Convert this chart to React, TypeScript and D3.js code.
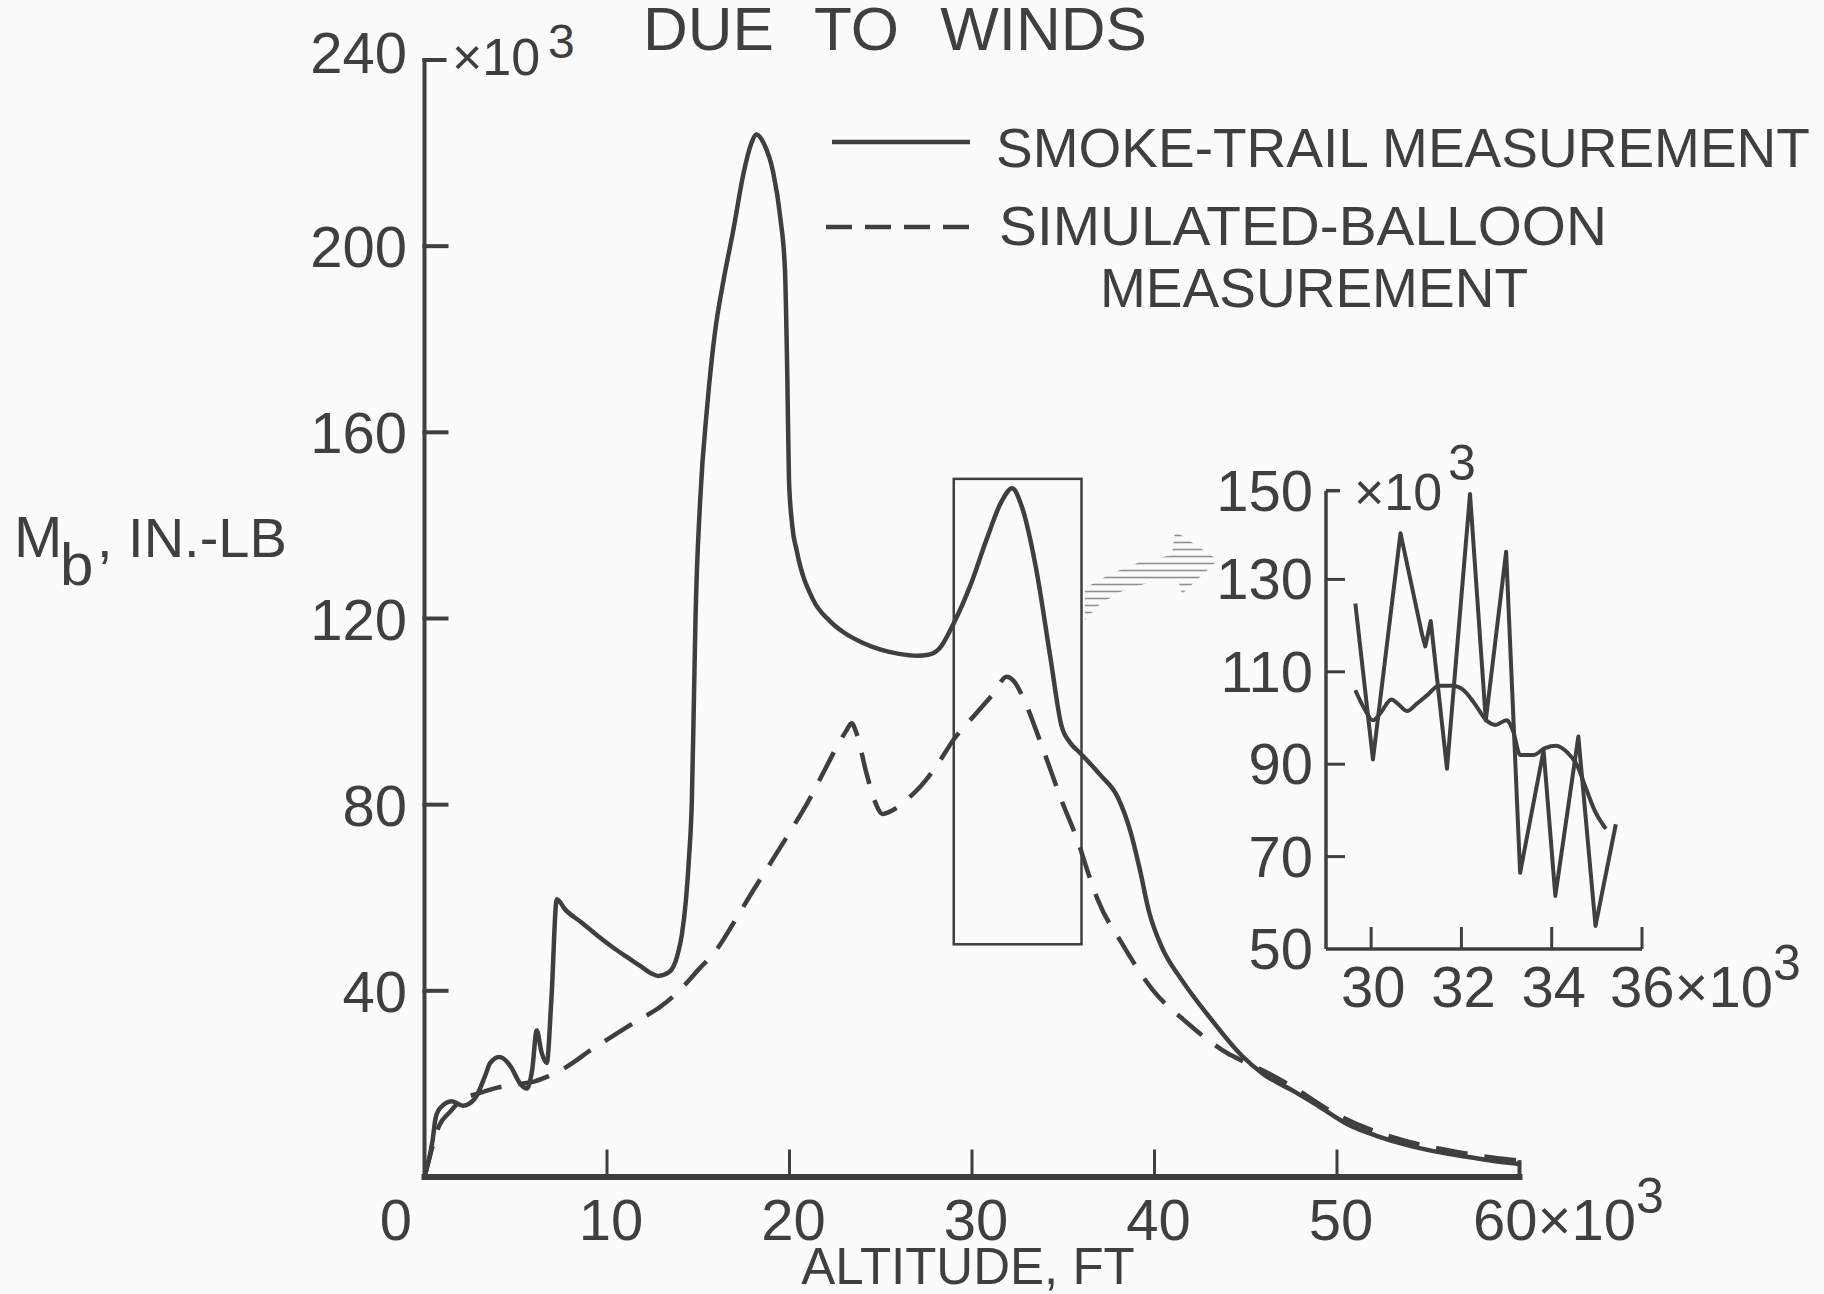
import React from 'react'
import * as d3 from 'd3'

// altitude in 10^3 ft, bending moment Mb in 10^3 in.-lb
const smokeAlt = [
  0, 0.45, 0.6, 0.85, 1.5, 2.1, 2.75, 3.3, 3.6, 4.1, 4.75, 5.2, 5.6, 5.9, 6.15, 6.4, 6.7, 6.95, 7.25,
  7.7, 8.6, 9.5, 10.2, 11.0, 11.8, 12.4, 12.8, 13.4, 13.85, 14.1, 14.33, 14.5, 14.65, 14.75, 14.85,
  15.1, 15.5, 15.9, 16.4, 16.9, 17.5, 17.9, 18.2, 18.6, 19.1, 19.5, 19.75, 19.88, 19.97, 20.15, 20.4,
  21.3, 22.2, 22.9, 24.0, 25.0, 26.0, 27.0, 27.6, 28.2, 29.0, 29.9, 30.8, 31.6, 32.2, 32.7, 33.5,
  34.3, 34.9, 35.4, 35.9, 37.0, 38.0, 38.7, 39.2, 39.7, 40.4, 41.5, 43.0, 44.8, 46.0, 47.6, 49.0,
  50.6, 52.2, 53.8, 55.5, 57.0, 58.5, 60.0
]
const smokeMb = [
  0, 8, 12.5, 14.8, 16.3, 15.3, 16.8, 21.5, 24.5, 25.8, 23.6, 20.3, 19, 23, 31.5, 27, 24.5, 38, 59.7,
  57.5, 54.7, 51.8, 49.7, 47.5, 45.4, 43.8, 43.2, 44, 47.5, 52, 59.7, 69, 81, 100, 120,
  145, 166, 181, 193, 203, 216, 222, 224, 222, 216, 206, 195, 172, 150, 140, 134.5,
  124, 119.5, 117.2, 114.8, 113.3, 112.4, 112, 112.2, 113.5, 119, 127, 137, 145, 148, 144.4, 131,
  111.5, 97, 93.2, 91.2, 86.5, 81.5, 74, 66, 57, 49.4, 42.3, 34.4, 26, 22, 18.5, 15.2,
  11.3, 8.8, 6.9, 5.4, 4.4, 3.5, 2.8
]

const balloonAlt = [
  0, 0.4, 0.8, 1.4, 2.0, 3.0, 4.0, 5.2, 6.0, 6.7, 7.5, 8.3, 9.0, 10.0, 11.0, 12.0, 13.0, 14.0, 15.0,
  16.0, 17.0, 18.0, 19.0, 20.0, 21.0, 22.0, 22.6, 23.1, 23.4, 23.7, 24.2, 24.7, 25.1, 25.5, 26.4,
  27.2, 28.0, 29.0, 30.2, 31.2, 31.9, 32.3, 32.8, 33.7, 34.9, 35.9, 36.35, 36.9, 38.2, 39.9, 41.8,
  44.0, 44.8, 46.0, 47.6, 50.0, 53.0, 56.0, 58.5, 60.0
]
const balloonMb = [
  0, 6, 11, 14, 16.5, 18, 19.2, 20, 20.5, 21.5, 23, 25, 27, 29.5, 32, 34.3, 36.8, 40.2, 44.5,
  48.8, 55, 61.5, 67.7, 74, 80.5, 88, 92.5, 95.8, 97.5, 95, 87, 80.5, 78, 78.5, 81,
  84, 88, 94, 99.5, 104, 107.5, 106.5, 103, 94, 81, 71, 65.5, 59.5, 50.3, 40.2, 33.1,
  26.6, 25, 22.8, 19.3, 13.4, 8.6, 5.8, 4.2, 3.5
]

// enlarged section, 29 000 - 36 000 ft
const insetSmokeAlt = [29.65, 30.04, 30.65, 31.13, 31.2, 31.32, 31.68, 32.19, 32.54, 32.99, 33.3, 33.82, 34.08, 34.59, 34.97, 35.42]
const insetSmokeMb = [124.8, 91, 140, 118, 115.5, 121, 89, 148.5, 99.5, 136, 66.5, 93, 61.5, 96, 55, 77]

const insetBalloonAlt = [
  29.65, 29.85, 30.04, 30.2, 30.45, 30.6, 30.8, 31.0, 31.25, 31.5, 31.8, 32.05, 32.3, 32.55, 32.75,
  33.0, 33.15, 33.3, 33.6, 33.85, 34.1, 34.35, 34.55, 34.75, 34.95, 35.2
]
const insetBalloonMb = [
  106, 102, 99.5, 101, 104, 103, 101.5, 103, 105, 107, 107, 106, 103, 99.5, 98.5,
  99.5, 97, 92, 92, 93.5, 94, 92.5, 90, 85, 80, 76
]

const xTicks = [0, 10, 20, 30, 40, 50, 60]
const yTicks = [40, 80, 120, 160, 200, 240]
const insetXTicks = [30, 32, 34, 36]
const insetYTicks = [50, 70, 90, 110, 130, 150]

const legendSolid = 'SMOKE-TRAIL MEASUREMENT'
const legendDash1 = 'SIMULATED-BALLOON'
const legendDash2 = 'MEASUREMENT'

const INK = '#3f3f3f'
const FONT = '"Liberation Sans", Arial, sans-serif'

const zip = (xs: number[], ys: number[]) => xs.map((x, i) => [x, ys[i]] as [number, number])

export default function App() {
  const x = d3.scaleLinear().domain([0, 60]).range([424.5, 1519.5])
  const y = d3.scaleLinear().domain([0, 240]).range([1177, 60])

  const ix = d3.scaleLinear().domain([29, 36]).range([1326, 1642])
  const iy = d3.scaleLinear().domain([50, 150]).range([949, 487])
  const insetTop = 149.2

  const mainLine = d3
    .line<[number, number]>()
    .x(d => x(d[0]))
    .y(d => y(d[1]))
    .curve(d3.curveMonotoneX)

  const insetZig = d3
    .line<[number, number]>()
    .x(d => ix(d[0]))
    .y(d => iy(d[1]))
  const insetSmooth = d3
    .line<[number, number]>()
    .x(d => ix(d[0]))
    .y(d => iy(d[1]))
    .curve(d3.curveMonotoneX)

  const txt = { fontFamily: FONT, fill: INK } as const

  return (
    <svg
      width={1824}
      height={1294}
      style={{ position: 'absolute', left: 0, top: 0, background: '#fbfbfb' }}
    >
      <defs>
        <pattern id="hatch" width={9} height={7} patternUnits="userSpaceOnUse">
          <line x1={0} y1={3.5} x2={9} y2={3.5} stroke="#8f8f8f" strokeWidth={1.6} />
        </pattern>
      </defs>

      {/* title, cut at top of the page */}
      <text x={643} y={50} fontSize={62} wordSpacing={24} {...txt}>
        DUE TO WINDS
      </text>

      {/* main axes */}
      <g stroke={INK} strokeLinecap="square" fill="none">
        <line x1={x(0)} x2={x(0)} y1={y(0)} y2={y(240)} strokeWidth={4} />
        <line x1={x(0)} x2={x(0) + 20} y1={y(240)} y2={y(240)} strokeWidth={4} />
        {yTicks.slice(0, -1).map(t => (
          <line key={t} x1={x(0)} x2={x(0) + 22} y1={y(t)} y2={y(t)} strokeWidth={4} />
        ))}
        <line x1={x(0)} x2={x(60)} y1={y(0)} y2={y(0)} strokeWidth={6} />
        {xTicks.slice(1, -1).map(t => (
          <line key={t} x1={x(t)} x2={x(t)} y1={y(0)} y2={y(0) - 26} strokeWidth={3} />
        ))}
        <line x1={x(60)} x2={x(60)} y1={y(0)} y2={y(3.2)} strokeWidth={4} />
      </g>

      {/* y tick labels */}
      {yTicks.map(t => (
        <text key={t} x={407} y={y(t) + (t === 240 ? 13 : 21)} fontSize={58} textAnchor="end" {...txt}>
          {t}
        </text>
      ))}
      <text x={452} y={75} fontSize={52} {...txt}>
        ×10
      </text>
      <text x={548} y={58} fontSize={48} {...txt}>
        3
      </text>

      {/* x tick labels */}
      {xTicks.map(t =>
        t === 60 ? (
          <text key={t} x={1473} y={1240} fontSize={58} {...txt}>
            60×10
            <tspan dy={-27} fontSize={50}>3</tspan>
          </text>
        ) : (
          <text key={t} x={t === 0 ? 396 : x(t) + 4} y={1240} fontSize={58} textAnchor="middle" {...txt}>
            {t}
          </text>
        )
      )}
      <text x={968} y={1284} fontSize={51} textAnchor="middle" {...txt}>
        ALTITUDE, FT
      </text>

      {/* y axis title */}
      <text x={14} y={557} fontSize={58} {...txt}>
        M
      </text>
      <text x={60} y={585} fontSize={60} {...txt}>
        b
      </text>
      <text x={97} y={557} fontSize={56} {...txt}>
        , IN.-LB
      </text>

      {/* legend */}
      <line x1={832} x2={970} y1={142} y2={142} stroke={INK} strokeWidth={4.5} />
      <text x={996} y={167} fontSize={55} {...txt}>
        {legendSolid}
      </text>
      <line x1={826} x2={970} y1={227} y2={227} stroke={INK} strokeWidth={4.5} strokeDasharray="26 13" />
      <text x={999} y={245} fontSize={56} textLength={608} lengthAdjust="spacingAndGlyphs" {...txt}>
        {legendDash1}
      </text>
      <text x={1100} y={307} fontSize={56} textLength={428} lengthAdjust="spacingAndGlyphs" {...txt}>
        {legendDash2}
      </text>

      {/* curves */}
      <path d={mainLine(zip(balloonAlt, balloonMb)) ?? ''} fill="none" stroke={INK} strokeWidth={4.5} strokeDasharray="32 17" />
      <path d={mainLine(zip(smokeAlt, smokeMb)) ?? ''} fill="none" stroke={INK} strokeWidth={4.5} strokeLinejoin="round" />

      {/* region shown enlarged */}
      <rect
        x={x(29)}
        y={y(150)}
        width={x(36) - x(29)}
        height={y(50) - y(150)}
        fill="none"
        stroke={INK}
        strokeWidth={2.5}
      />

      {/* hatched arrow */}
      <polygon
        points="1085,588 1110,574 1140,562 1172,555 1175,531 1218,560 1182,594 1178,580 1150,582 1120,592 1100,604 1085,620"
        fill="url(#hatch)"
      />

      {/* inset axes */}
      <g stroke={INK} fill="none">
        <line x1={ix(29)} x2={ix(29)} y1={iy(50)} y2={iy(insetTop)} strokeWidth={3.5} />
        <line x1={ix(29)} x2={ix(29) + 14} y1={iy(insetTop)} y2={iy(insetTop)} strokeWidth={3.5} />
        {insetYTicks.slice(1, -1).map(t => (
          <line key={t} x1={ix(29)} x2={ix(29) + 19} y1={iy(t)} y2={iy(t)} strokeWidth={3} />
        ))}
        <line x1={ix(29)} x2={ix(36)} y1={iy(50)} y2={iy(50)} strokeWidth={3.5} />
        {insetXTicks.map(t => (
          <line key={t} x1={ix(t)} x2={ix(t)} y1={iy(50)} y2={iy(50) - 22} strokeWidth={3} />
        ))}
      </g>
      {insetYTicks.map(t => (
        <text key={t} x={1313} y={iy(t === 150 ? insetTop : t) + 20} fontSize={58} textAnchor="end" {...txt}>
          {t}
        </text>
      ))}
      <text x={1354} y={510} fontSize={52} {...txt}>
        ×10
      </text>
      <text x={1448} y={480} fontSize={50} {...txt}>
        3
      </text>
      {insetXTicks.map(t =>
        t === 36 ? (
          <text key={t} x={1610} y={1007} fontSize={58} {...txt}>
            36×10
            <tspan dy={-27} fontSize={50}>3</tspan>
          </text>
        ) : (
          <text key={t} x={ix(t) + 2} y={1007} fontSize={58} textAnchor="middle" {...txt}>
            {t}
          </text>
        )
      )}

      <path d={insetSmooth(zip(insetBalloonAlt, insetBalloonMb)) ?? ''} fill="none" stroke={INK} strokeWidth={4} />
      <path d={insetZig(zip(insetSmokeAlt, insetSmokeMb)) ?? ''} fill="none" stroke={INK} strokeWidth={4} strokeLinejoin="round" />
    </svg>
  )
}
